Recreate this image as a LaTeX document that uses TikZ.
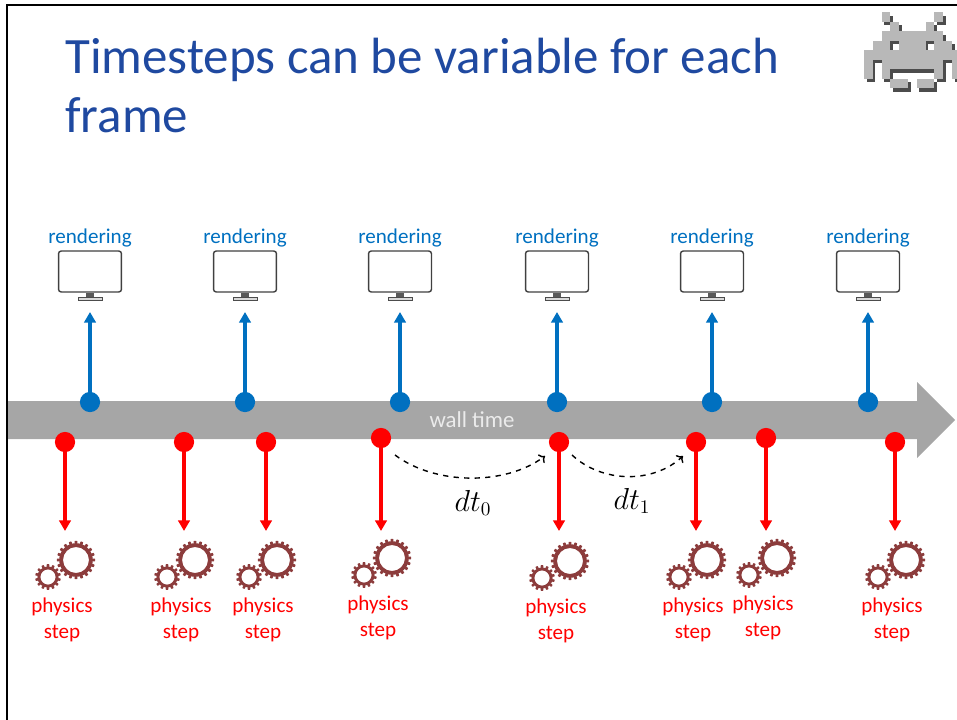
\documentclass[tikz,border=0pt]{standalone}
\usepackage{fontspec}
\setmainfont{Carlito}
\usetikzlibrary{arrows.meta}
\definecolor{TitleBlue}{HTML}{1F49A0}
\definecolor{NiceBlue}{HTML}{0070C0}
\definecolor{NiceRed}{HTML}{FF0000}
\definecolor{GearRed}{HTML}{8C3C3C}
\definecolor{WallGray}{HTML}{A6A6A6}

\begin{document}
\begin{tikzpicture}[x=0.02cm, y=-0.02cm,
    title/.style={text=TitleBlue, anchor=base west, inner sep=0pt, font=\fontsize{29}{35}\selectfont},
    renderlabel/.style={text=NiceBlue, font=\fontsize{12}{14}\selectfont},
    screen/.style={draw=black!75, line width=0.8pt, fill=white, rounded corners=1.5pt,
      minimum width=35.8pt, minimum height=23.3pt, inner sep=0pt},
    bluedot/.style={circle, fill=NiceBlue, minimum size=11.5pt, inner sep=0pt},
    reddot/.style={circle, fill=NiceRed, minimum size=11.5pt, inner sep=0pt},
    renderarrow/.style={NiceBlue, line width=2pt, -{Triangle[length=6pt, width=6.5pt]}},
    physarrow/.style={NiceRed, line width=1.8pt, -{Triangle[length=6pt, width=6.5pt]}},
    physlabel/.style={text=NiceRed, align=center, inner sep=0pt, font=\fontsize{12}{14.8}\selectfont},
    dtarrow/.style={dashed, line width=0.8pt, -{To[length=3pt, width=6pt]}},
    dtlabel/.style={font=\fontsize{16}{19}\selectfont},
    biggear/.pic={
      \fill[GearRed, even odd rule] (0,0) circle[radius=16.8] circle[radius=13];
      \foreach \a in {0,18,...,342}
        \fill[GearRed, rotate=\a, rounded corners=0.3pt] (-1.4,16) rectangle (1.4,19.2);
    },
    smallgear/.pic={
      \fill[GearRed, even odd rule] (0,0) circle[radius=10.6] circle[radius=7.6];
      \foreach \a in {0,25.7,...,340}
        \fill[GearRed, rotate=\a, rounded corners=0.3pt] (-1.3,10) rectangle (1.3,12.8);
    }]
  \useasboundingbox (0,0) rectangle (957,720);

  % slide frame
  \draw[line width=1.4pt] (7,720) -- (7,5) -- (957,5);

  % heading
  \node[title] (title1) at (65,73) {Timesteps can be variable for each};
  \node[title] (title2) at (65,132) {frame};

  % pixel invader, shadow first then the faces
  \foreach \r/\cols in {0/{2,8},1/{3,7},2/{2,...,8},3/{1,2,4,5,6,8,9},4/{0,...,10},
      5/{0,2,3,4,5,6,7,8,10},6/{0,2,8,10},7/{3,4,6,7}}
    \foreach \c in \cols
      \fill[black!70] (864+8.8*\c+2.5,12+9.5*\r+3.5) rectangle +(8.8,9.5);
  \foreach \r/\cols in {0/{2,8},1/{3,7},2/{2,...,8},3/{1,2,4,5,6,8,9},4/{0,...,10},
      5/{0,2,3,4,5,6,7,8,10},6/{0,2,8,10},7/{3,4,6,7}}
    \foreach \c in \cols
      \fill[black!28] (864+8.8*\c,12+9.5*\r) rectangle +(8.8,9.5);

  % wall time arrow
  \fill[WallGray] (8,401) -- (917,401) -- (917,382) -- (955,420)
    -- (917,458) -- (917,439) -- (8,439) -- cycle;
  \node[text=white!92!black, font=\fontsize{13}{15}\selectfont] (wall) at (472,420) {wall time};

  % rendering
  \foreach \x [count=\i] in {90,245,400,557,712,868} {
    \node[renderlabel] (rl\i) at (\x,238) {rendering};
    \node[screen] (m\i) at (\x,271.5) {};
    \fill[black!65] ([shift={(-4,0)}]m\i.south) rectangle ([shift={(4,5)}]m\i.south);
    \draw[black!70, fill=black!15, line width=0.5pt]
      ([shift={(-12,5)}]m\i.south) rectangle ([shift={(12,8)}]m\i.south);
    \node[bluedot] (b\i) at (\x,402) {};
    \coordinate (t\i) at (\x,312);
    \draw[renderarrow] (b\i.center) -- (t\i);
  }

  % physics steps
  \foreach \x/\y/\ly [count=\i] in {65/442/620,184/442/620,266/442/620,381/438/618,
      559/442/621,696/442/620,766/438/618,895/442/620} {
    \node[reddot] (p\i) at (\x,\y) {};
    \coordinate (s\i) at (\x,531);
    \draw[physarrow] (p\i.center) -- (s\i);
    \pic at (\x+11,\ly-60) {biggear};
    \pic at (\x-17,\ly-43) {smallgear};
    \node[physlabel] (l\i) at (\x-3,\ly) {physics\\step};
  }

  % time deltas
  \draw[dtarrow] ([shift={(14,17)}]p4.center) .. controls +(40,30) and +(-40,30)
    .. ([shift={(-14,14)}]p5.center);
  \draw[dtarrow] ([shift={(13,13)}]p5.center) .. controls +(30,28) and +(-30,28)
    .. ([shift={(-13,14)}]p6.center);
  \node[dtlabel] (dt0) at (473,503) {$dt_0$};
  \node[dtlabel] (dt1) at (632,501) {$dt_1$};
\end{tikzpicture}
\end{document}
